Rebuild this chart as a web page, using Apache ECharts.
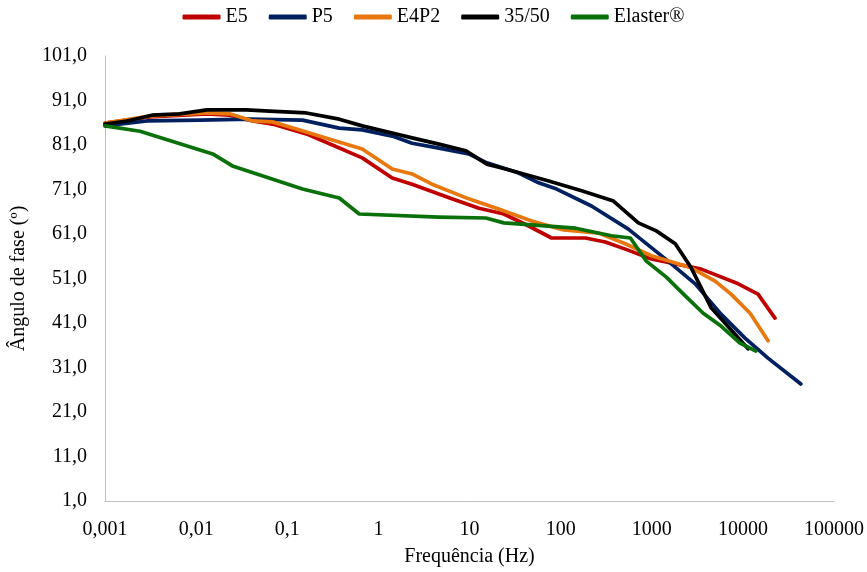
<!DOCTYPE html>
<html>
<head>
<meta charset="utf-8">
<script src="https://cdn.jsdelivr.net/npm/echarts@6/dist/echarts.min.js"></script>
<style>
html,body{margin:0;padding:0;background:#fff;}
#chart{width:867px;height:572px;}
</style>
</head>
<body>
<div id="chart"></div>
<script>
var seriesNames = ['E5', 'P5', 'E4P2', '35/50', 'Elaster®'];

var e5Freq = [0.001, 0.0031, 0.0131, 0.0233, 0.0417, 0.069, 0.162, 0.313, 0.665, 1.42, 2.34, 6.4, 12.7, 23.8, 44.7, 79.5, 187, 309, 513, 991, 3490, 8900, 14660, 22500];
var e5Val  = [85.9, 87.3, 88.0, 87.7, 86.4, 85.7, 83.5, 81.0, 78.1, 73.6, 72.2, 68.9, 66.8, 65.5, 62.8, 60.1, 60.1, 59.2, 57.6, 55.4, 53.1, 49.8, 47.5, 42.1];

var p5Freq = [0.001, 0.00288, 0.011, 0.0387, 0.147, 0.372, 0.665, 1.42, 2.34, 4.62, 9.8, 15.5, 34.7, 57.4, 90.4, 218, 554, 1409, 3000, 5760, 10560, 18870, 43300];
var p5Val  = [85.3, 86.4, 86.6, 86.8, 86.6, 84.8, 84.4, 83.0, 81.4, 80.3, 79.0, 77.0, 74.7, 72.5, 71.1, 67.3, 62.1, 55.4, 49.8, 43.0, 37.6, 33.1, 27.3];

var e4p2Freq = [0.001, 0.0031, 0.0131, 0.0233, 0.0417, 0.069, 0.162, 0.313, 0.665, 1.42, 2.34, 3.88, 9.8, 20.9, 48.2, 108, 261, 513, 991, 2710, 4960, 7420, 12000, 18900];
var e4p2Val  = [85.9, 87.5, 88.2, 88.0, 86.4, 86.2, 83.9, 82.1, 80.1, 75.6, 74.5, 72.2, 68.9, 66.6, 63.9, 61.9, 61.2, 58.8, 56.1, 53.4, 50.4, 47.5, 43.2, 37.0];

var b3550Freq = [0.001, 0.00174, 0.00327, 0.0066, 0.0131, 0.0358, 0.0638, 0.162, 0.372, 0.665, 1.42, 2.34, 4.62, 9.13, 15.5, 25, 74, 170, 380, 713, 1122, 1811, 2710, 4490, 7240, 11400];
var b3550Val  = [85.7, 86.4, 87.7, 88.0, 88.9, 88.9, 88.6, 88.2, 86.8, 85.3, 83.7, 82.6, 81.2, 79.7, 76.7, 75.6, 72.9, 70.7, 68.4, 63.5, 61.7, 58.8, 53.4, 44.4, 39.7, 35.2];

var elasterFreq = [0.001, 0.00242, 0.0152, 0.025, 0.147, 0.372, 0.617, 4.6, 15.1, 23.8, 146, 361, 583, 872, 1445, 2333, 3673, 5760, 9300, 13900];
var elasterVal  = [85.3, 84.1, 79.0, 76.3, 71.1, 69.1, 65.5, 64.8, 64.6, 63.5, 62.3, 60.6, 60.1, 54.9, 51.3, 47.1, 43.2, 40.3, 36.5, 34.7];

var colors = ['#C00000', '#002060', '#E8770E', '#000000', '#0A700A'];

function zip(f, v) { return f.map(function (x, i) { return [x, v[i]]; }); }
var allData = [
  zip(e5Freq, e5Val),
  zip(p5Freq, p5Val),
  zip(e4p2Freq, e4p2Val),
  zip(b3550Freq, b3550Val),
  zip(elasterFreq, elasterVal)
];

var font = 'Liberation Serif';
var chart = echarts.init(document.getElementById('chart'), null, {renderer: 'canvas'});
chart.setOption({
  animation: false,
  backgroundColor: '#ffffff',
  color: colors,
  legend: {
    top: 2,
    left: 'center',
    icon: 'roundRect',
    itemWidth: 38,
    itemHeight: 5,
    itemGap: 21,
    data: seriesNames,
    textStyle: {fontFamily: font, fontSize: 20, color: '#000'}
  },
  grid: {left: 105, right: 31, top: 56, bottom: 71, containLabel: false},
  xAxis: {
    type: 'log',
    logBase: 10,
    min: 0.001,
    max: 100000,
    name: 'Frequência (Hz)',
    nameLocation: 'middle',
    nameGap: 46,
    nameTextStyle: {fontFamily: font, fontSize: 20, color: '#000'},
    axisLine: {show: true, lineStyle: {color: '#BFBFBF', width: 1}},
    axisTick: {show: false},
    splitLine: {show: false},
    minorTick: {show: false},
    axisLabel: {
      fontFamily: font, fontSize: 20, color: '#000', margin: 19,
      formatter: function (v) {
        var s = v >= 1 ? String(Math.round(v)) : String(parseFloat(v.toPrecision(6)));
        return s.replace('.', ',');
      }
    }
  },
  yAxis: {
    type: 'value',
    min: 1,
    max: 101,
    interval: 10,
    name: 'Ângulo de fase (º)',
    nameLocation: 'middle',
    nameRotate: 90,
    nameGap: 76,
    nameTextStyle: {fontFamily: font, fontSize: 20, color: '#000'},
    axisLine: {show: true, lineStyle: {color: '#BFBFBF', width: 1}},
    axisTick: {show: false},
    splitLine: {show: false},
    axisLabel: {
      fontFamily: font, fontSize: 20, color: '#000', margin: 18,
      formatter: function (v) { return v.toFixed(1).replace('.', ','); }
    }
  },
  series: seriesNames.map(function (n, i) {
    return {
      name: n,
      type: 'line',
      data: allData[i],
      showSymbol: false,
      symbol: 'none',
      smooth: false,
      lineStyle: {width: 3.7, color: colors[i], cap: 'round', join: 'round'},
      itemStyle: {color: colors[i]}
    };
  })
});
</script>
</body>
</html>
